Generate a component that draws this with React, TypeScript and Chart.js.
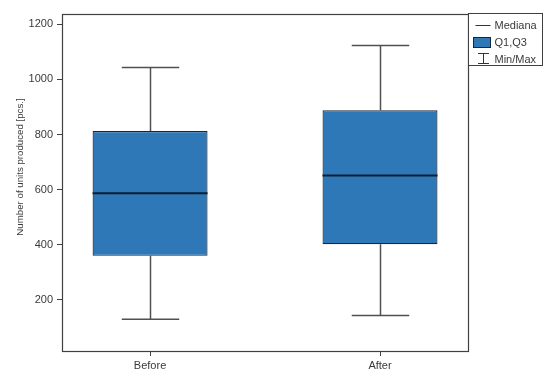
import React, { useEffect, useRef } from "react";
import { Chart, registerables } from "chart.js";

Chart.register(...registerables);

const categories = ["Before", "After"];
const minValues = [130, 144];
const q1Values = [360, 402];
const medianValues = [587, 651];
const q3Values = [813, 888];
const maxValues = [1043, 1123];
const yTickValues = [200, 400, 600, 800, 1000, 1200];
const legendLabels = ["Mediana", "Q1,Q3", "Min/Max"];
const yTitle = "Number of units produced [pcs.]";

const FONT_FAMILY = "'Liberation Sans', Arial, sans-serif";
const TEXT_COLOR = "#3a3a3a";
const FRAME_COLOR = "#404040";
const BOX_FILL = "#2e78b8";
const BOX_BORDER = "#14283d";
const MEDIAN_COLOR = "#0b1f33";
const WHISKER_COLOR = "#505050";

const boxPlotPlugin = {
  id: "boxPlotExtras",
  beforeDatasetsDraw(chart: any) {
    const ctx = chart.ctx;
    const y = chart.scales.y;
    const meta = chart.getDatasetMeta(0);
    ctx.save();
    ctx.strokeStyle = WHISKER_COLOR;
    ctx.lineWidth = 1.5;
    meta.data.forEach((bar: any, i: number) => {
      const { x, width } = bar.getProps(["x", "width"], true);
      const cx = Math.round(x) + 0.5;
      const capHalf = width / 4;
      const yMax = y.getPixelForValue(maxValues[i]);
      const yMin = y.getPixelForValue(minValues[i]);
      const yQ3 = y.getPixelForValue(q3Values[i]);
      const yQ1 = y.getPixelForValue(q1Values[i]);
      ctx.beginPath();
      ctx.moveTo(cx, yQ3);
      ctx.lineTo(cx, yMax);
      ctx.moveTo(cx - capHalf, yMax);
      ctx.lineTo(cx + capHalf, yMax);
      ctx.moveTo(cx, yQ1);
      ctx.lineTo(cx, yMin);
      ctx.moveTo(cx - capHalf, yMin);
      ctx.lineTo(cx + capHalf, yMin);
      ctx.stroke();
    });
    ctx.restore();
  },
  afterDatasetsDraw(chart: any) {
    const ctx = chart.ctx;
    const y = chart.scales.y;
    const meta = chart.getDatasetMeta(0);
    ctx.save();
    ctx.strokeStyle = MEDIAN_COLOR;
    ctx.lineWidth = 2;
    meta.data.forEach((bar: any, i: number) => {
      const { x, width } = bar.getProps(["x", "width"], true);
      const yMed = y.getPixelForValue(medianValues[i]);
      ctx.beginPath();
      ctx.moveTo(x - width / 2, yMed);
      ctx.lineTo(x + width / 2, yMed);
      ctx.stroke();
    });
    ctx.restore();
  },
  afterDraw(chart: any) {
    const ctx = chart.ctx;
    const area = chart.chartArea;
    ctx.save();
    // plot frame
    ctx.strokeStyle = FRAME_COLOR;
    ctx.lineWidth = 1.2;
    ctx.strokeRect(
      Math.round(area.left) + 0.5,
      Math.round(area.top) + 0.5,
      Math.round(area.right - area.left) - 1,
      Math.round(area.bottom - area.top)
    );

    // y title
    ctx.fillStyle = TEXT_COLOR;
    ctx.font = `9.7px ${FONT_FAMILY}`;
    ctx.textAlign = "center";
    ctx.textBaseline = "middle";
    ctx.save();
    ctx.translate(20, 167);
    ctx.rotate(-Math.PI / 2);
    ctx.fillText(yTitle, 0, 0);
    ctx.restore();

    // legend
    const lx = Math.round(area.right) - 0.5;
    const ly = Math.round(area.top) - 0.5;
    const lw = 74;
    const lh = 52;
    ctx.fillStyle = "#ffffff";
    ctx.fillRect(lx, ly, lw, lh);
    ctx.strokeStyle = FRAME_COLOR;
    ctx.lineWidth = 1;
    ctx.strokeRect(lx, ly, lw, lh);

    const symX = lx + 7;
    const symW = 15;
    const textX = lx + 26;
    const rows = [ly + 11, ly + 28, ly + 45];

    // Mediana symbol
    ctx.strokeStyle = "#333333";
    ctx.lineWidth = 1;
    ctx.beginPath();
    ctx.moveTo(symX, Math.round(rows[0]) + 0.5);
    ctx.lineTo(symX + symW, Math.round(rows[0]) + 0.5);
    ctx.stroke();

    // Q1,Q3 symbol
    ctx.fillStyle = BOX_FILL;
    ctx.fillRect(Math.round(symX - 3) + 0.5, Math.round(rows[1] - 5) + 0.5, symW + 2, 10);
    ctx.strokeStyle = BOX_BORDER;
    ctx.strokeRect(Math.round(symX - 3) + 0.5, Math.round(rows[1] - 5) + 0.5, symW + 2, 10);

    // Min/Max symbol
    const ibx = Math.round(symX + symW / 2) + 0.5;
    const top = Math.round(rows[2] - 6) + 0.5;
    const bot = Math.round(rows[2] + 4) + 0.5;
    ctx.strokeStyle = "#333333";
    ctx.beginPath();
    ctx.moveTo(ibx - 5.5, top);
    ctx.lineTo(ibx + 5.5, top);
    ctx.moveTo(ibx, top);
    ctx.lineTo(ibx, bot);
    ctx.moveTo(ibx - 5.5, bot);
    ctx.lineTo(ibx + 5.5, bot);
    ctx.stroke();

    ctx.fillStyle = TEXT_COLOR;
    ctx.font = `11px ${FONT_FAMILY}`;
    ctx.textAlign = "left";
    ctx.textBaseline = "middle";
    legendLabels.forEach((label, i) => {
      ctx.fillText(label, textX, rows[i] + 1);
    });
    ctx.restore();
  },
};

export default function App() {
  const canvasRef = useRef<HTMLCanvasElement | null>(null);

  useEffect(() => {
    document.body.style.margin = "0";
    const canvas = canvasRef.current;
    if (!canvas) return;
    const chart = new Chart(canvas, {
      type: "bar",
      data: {
        datasets: [
          {
            label: "Q1,Q3",
            data: categories.map((_, i) => ({ x: i, y: [q1Values[i], q3Values[i]] })) as any,
            backgroundColor: BOX_FILL,
            borderColor: BOX_BORDER,
            borderWidth: 1.2,
            borderSkipped: false,
            inflateAmount: 0,
            barPercentage: 0.5,
            categoryPercentage: 1.0,
          },
        ],
      },
      options: {
        animation: false,
        responsive: false,
        devicePixelRatio: 1,
        layout: { padding: { top: 14, right: 81, left: 0, bottom: 0 } },
        plugins: {
          legend: { display: false },
          tooltip: { enabled: false },
        },
        scales: {
          x: {
            type: "linear",
            offset: false,
            min: -0.383,
            max: 1.387,
            grid: {
              offset: false,
              drawOnChartArea: false,
              drawTicks: true,
              tickLength: 5,
              color: FRAME_COLOR,
            },
            border: { display: false },
            ticks: {
              color: TEXT_COLOR,
              font: { family: FONT_FAMILY, size: 11 },
              padding: 3,
              maxRotation: 0,
              callback: (v: any) => categories[v as number] ?? "",
            },
            afterBuildTicks: (scale: any) => {
              scale.ticks = categories.map((_, i) => ({ value: i }));
            },
            afterFit: (scale: any) => {
              scale.height = 27;
            },
          },
          y: {
            type: "linear",
            min: 15,
            max: 1237,
            grid: {
              drawOnChartArea: false,
              drawTicks: true,
              tickLength: 5,
              color: FRAME_COLOR,
            },
            border: { display: false },
            ticks: {
              color: TEXT_COLOR,
              font: { family: FONT_FAMILY, size: 11 },
              padding: 4,
              callback: (v: any) => String(v),
            },
            afterBuildTicks: (scale: any) => {
              scale.ticks = yTickValues.map((v) => ({ value: v }));
            },
            afterFit: (scale: any) => {
              scale.width = 62;
            },
          },
        },
      },
      plugins: [boxPlotPlugin],
    });
    return () => chart.destroy();
  }, []);

  return (
    <div style={{ width: 550, height: 378, background: "#ffffff" }}>
      <canvas ref={canvasRef} width={550} height={378} />
    </div>
  );
}
